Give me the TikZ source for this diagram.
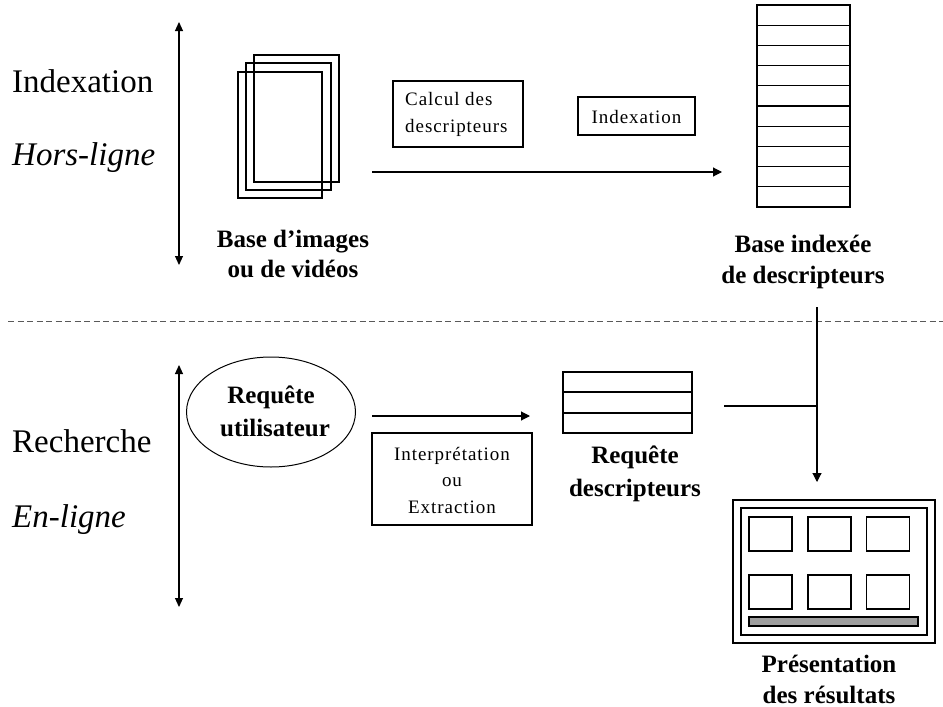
\documentclass[tikz,border=0pt]{standalone}
\usepackage{fontspec}
\setmainfont{Liberation Serif}
\usetikzlibrary{arrows.meta,shapes.geometric,calc}
\begin{document}
\begin{tikzpicture}[x=1pt,y=-1pt,
  thinln/.style={line width=1.1pt},
  box/.style={draw,line width=1.2pt,inner sep=0pt,outer sep=0pt},
  thickbox/.style={draw,line width=2.3pt,inner sep=0pt,outer sep=0pt},
  side/.style={anchor=base west,inner sep=0pt,font=\fontsize{33}{36}\selectfont},
  lbl/.style={anchor=base,inner sep=0pt,font=\fontsize{25}{30}\selectfont\bfseries},
  small/.style={inner sep=0pt,font=\fontsize{19}{24}\selectfont\addfontfeatures{LetterSpace=5}},
  arr/.style={line width=1.1pt,-{Triangle[length=9pt,width=9pt]}},
  darr/.style={line width=1.1pt,{Triangle[length=9pt,width=8pt]}-{Triangle[length=9pt,width=8pt]}}]
\useasboundingbox (0,0) rectangle (943,707);

% left labels
\node[side] (idx) at (12,92) {Indexation};
\node[side] (hl) at (12,165) {\itshape Hors-ligne};
\node[side] (rech) at (12,452) {Recherche};
\node[side] (enl) at (12,527) {\itshape En-ligne};

% double arrows
\coordinate (t1) at (179,22);
\coordinate (b1) at (179,265);
\draw[darr] (t1) -- (b1);
\coordinate (t2) at (179,365);
\coordinate (b2) at (179,607);
\draw[darr] (t2) -- (b2);

% stack of images
\node[box,minimum width=85,minimum height=127] (img3) at (296.5,118.5) {};
\node[box,minimum width=85,minimum height=127] (img2) at (288.5,126.5) {};
\node[box,minimum width=84,minimum height=126] (img1) at (280,135) {};
\node[lbl] (imgla) at (293,247) {Base d'images};
\node[lbl] (imglb) at (293,277) {ou de vidéos};

% top process
\coordinate (a1s) at (372,172);
\coordinate (a1e) at (722,172);
\draw[arr] (a1s) -- (a1e);
\node[box,minimum width=130,minimum height=66] (calc) at (458,114) {};
\node[small,anchor=base west] (calca) at (405,105) {Calcul des};
\node[small,anchor=base west] (calcb) at (405,132) {descripteurs};
\node[box,minimum width=117,minimum height=38] (indx) at (636.5,116) {};
\node[small,anchor=base] (indxt) at (636.5,123) {Indexation};

% indexed base
\node[thickbox,minimum width=93,minimum height=202] (base) at (803.5,106) {};
\foreach \k in {1,...,9}
  \draw[thinln] ($(base.north west)+(0,20.2*\k)$) -- ($(base.north east)+(0,20.2*\k)$);
\node[lbl] (basela) at (803,252) {Base indexée};
\node[lbl] (baselb) at (803,283) {de descripteurs};

% separator
\coordinate (sepL) at (8,321);
\coordinate (sepR) at (943,321);
\draw[line width=1pt,gray!70!black,dash pattern=on 6pt off 3.5pt] (sepL) -- (sepR);

% online part
\node[draw,ellipse,line width=1pt,minimum width=169,minimum height=110,inner sep=0pt] (req) at (271,412) {};
\node[lbl] (reqa) at (271,403) {Requête};
\node[lbl] (reqb) at (275,436) {utilisateur};
\coordinate (a2s) at (372,416);
\coordinate (a2e) at (530,416);
\draw[arr] (a2s) -- (a2e);
\node[box,minimum width=160,minimum height=92] (interp) at (452,479) {};
\node[small,anchor=base] (interpa) at (452,460) {Interprétation};
\node[small,anchor=base] (interpb) at (452,486) {ou};
\node[small,anchor=base] (interpc) at (452,513) {Extraction};

\node[thickbox,minimum width=129,minimum height=61] (qd) at (627.5,402.5) {};
\draw[thinln] ($(qd.north west)+(0,20)$) -- ($(qd.north east)+(0,20)$);
\draw[thinln] ($(qd.north west)+(0,41)$) -- ($(qd.north east)+(0,41)$);
\node[lbl] (qdla) at (635,463) {Requête};
\node[lbl] (qdlb) at (635,496) {descripteurs};

% results
\coordinate (vtop) at (817,307);
\coordinate (junc) at (817,406);
\coordinate (hst) at (724,406);
\coordinate (vend) at (817,482);
\draw[thinln] (hst) -- (junc);
\draw[arr] (vtop) -- (vend);

\node[box,minimum width=202,minimum height=143] (res) at (834,571.5) {};
\node[box,minimum width=186,minimum height=127] (resin) at (834,571.5) {};
\node[box,minimum width=43,minimum height=34] (r11) at (770.5,534) {};
\node[box,minimum width=43,minimum height=34] (r12) at (829.5,534) {};
\node[box,minimum width=43,minimum height=34] (r13) at (888,534) {};
\node[box,minimum width=43,minimum height=34] (r21) at (770.5,592) {};
\node[box,minimum width=43,minimum height=34] (r22) at (829.5,592) {};
\node[box,minimum width=43,minimum height=34] (r23) at (888,592) {};
\node[box,fill=gray!75,minimum width=169,minimum height=9] (bar) at (833.5,621.5) {};
\node[lbl] (resla) at (829,672) {Présentation};
\node[lbl] (reslb) at (829,703) {des résultats};
\end{tikzpicture}
\end{document}
